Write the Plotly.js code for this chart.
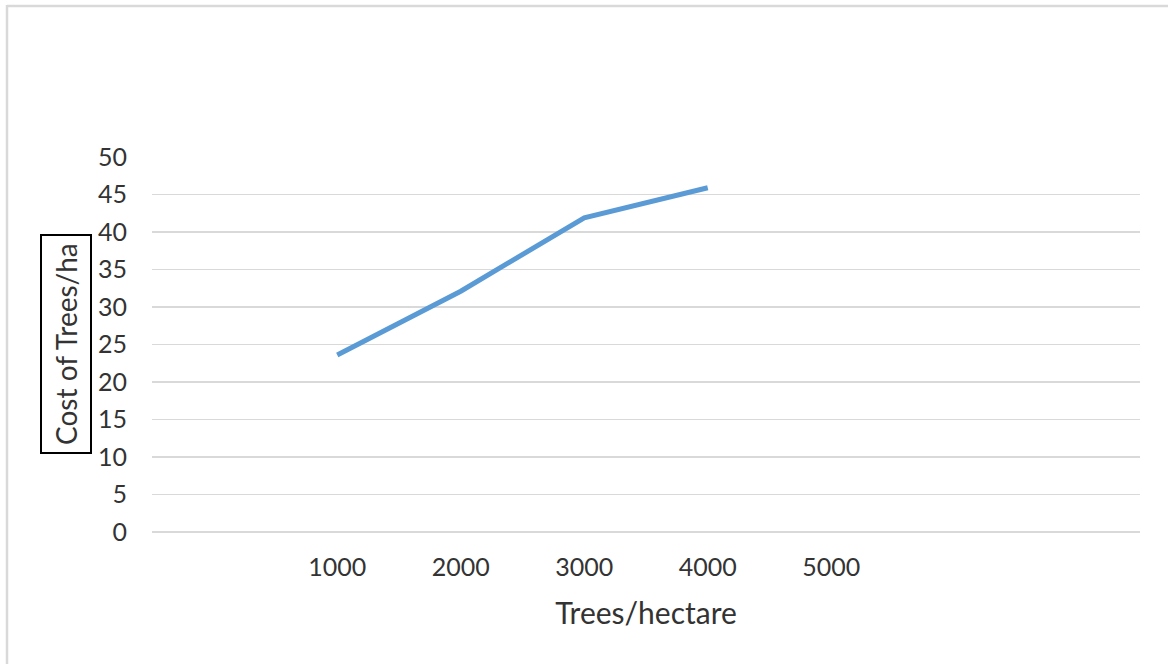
<!DOCTYPE html>
<html>
<head>
<meta charset="utf-8">
<script src="https://cdn.plot.ly/plotly-3.0.1.min.js"></script>
<style>
html,body{margin:0;padding:0;background:#fff;}
#chart{width:1168px;height:664px;}
</style>
</head>
<body>
<div id="chart"></div>
<script>
const treesPerHectare = [1000, 2000, 3000, 4000];
const costOfTrees = [23.6, 32.1, 41.9, 45.9];
const xTickVals = [1000, 2000, 3000, 4000, 5000];
const xTickText = ["1000", "2000", "3000", "4000", "5000"];
const yTickVals = [0, 5, 10, 15, 20, 25, 30, 35, 40, 45, 50];

const W = 1168, H = 664;
const m = {l: 152, r: 28, t: 157, b: 132};
const pw = W - m.l - m.r, ph = H - m.t - m.b;
const px = v => (v - m.l) / pw;
const py = v => (H - m.b - v) / ph;

const font = "Lato, 'Open Sans', sans-serif";
const txt = '#333333';

const trace = {
  x: treesPerHectare,
  y: costOfTrees,
  type: 'scatter',
  mode: 'lines',
  line: {color: '#5B9BD5', width: 5},
  hoverinfo: 'skip'
};

const layout = {
  width: W, height: H,
  margin: m,
  paper_bgcolor: '#ffffff',
  plot_bgcolor: '#ffffff',
  showlegend: false,
  font: {family: font, color: txt, size: 25},
  xaxis: {
    range: [-500, 7500],
    tickvals: xTickVals,
    ticktext: xTickText,
    showgrid: false,
    zeroline: false,
    showline: false,
    ticks: '',
    ticklen: 0,
    tickfont: {family: font, size: 25, color: txt},
    ticklabelstandoff: 18,
    title: {text: 'Trees/hectare', font: {family: font, size: 30, color: txt}, standoff: 22},
    fixedrange: true
  },
  yaxis: {
    range: [0, 50],
    tickvals: yTickVals,
    showgrid: true,
    gridcolor: '#d9d9d9',
    gridwidth: 1.5,
    zeroline: true,
    zerolinecolor: '#d9d9d9',
    zerolinewidth: 1.5,
    showline: false,
    ticks: '',
    ticklen: 0,
    tickfont: {family: font, size: 25, color: txt},
    ticklabelstandoff: 24,
    fixedrange: true
  },
  annotations: [{
    text: 'Cost of Trees/ha',
    textangle: -90,
    xref: 'paper', yref: 'paper',
    x: px(66), y: py(344),
    xanchor: 'center', yanchor: 'middle',
    showarrow: false,
    font: {family: font, size: 28, color: txt},
    bordercolor: '#000000',
    borderwidth: 2,
    borderpad: 7,
    bgcolor: 'rgba(0,0,0,0)'
  }],
  shapes: [
    {type: 'line', xref: 'paper', yref: 'paper', x0: px(7), x1: px(1170), y0: py(6), y1: py(6), line: {color: '#d9d9d9', width: 2.5}},
    {type: 'line', xref: 'paper', yref: 'paper', x0: px(7), x1: px(7), y0: py(5), y1: py(670), line: {color: '#d9d9d9', width: 2.5}}
  ]
};

Plotly.newPlot('chart', [trace], layout, {displayModeBar: false, staticPlot: true});
</script>
</body>
</html>
